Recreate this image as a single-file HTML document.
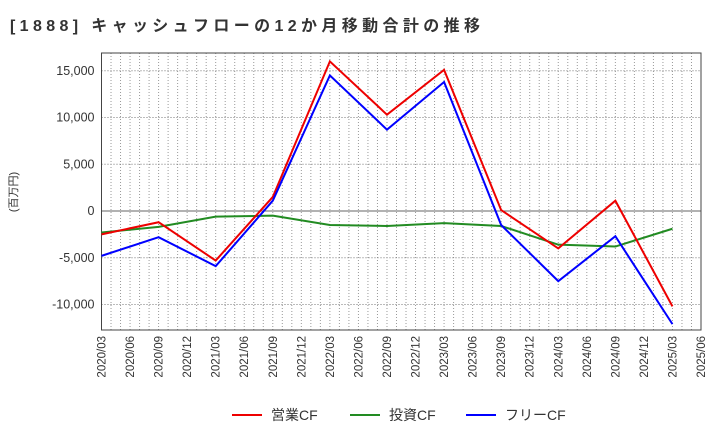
<!DOCTYPE html>
<html><head><meta charset="utf-8"><style>
body{margin:0;background:#fff;width:720px;height:440px;overflow:hidden;font-family:"Liberation Sans","Noto Sans CJK JP",sans-serif}
</style></head><body>
<svg id="c" width="720" height="440" font-family="Liberation Sans, Noto Sans CJK JP, sans-serif">
<text x="10" y="31" font-size="16" font-weight="bold" fill="#333" textLength="470" lengthAdjust="spacing">[1888]  キャッシュフローの12か月移動合計の推移</text>
<text transform="translate(17,192) rotate(-90)" font-size="11" fill="#333" text-anchor="middle">(百万円)</text>
<g id="grid"></g><g id="axes"></g><g id="series"></g>
<g>
<line x1="232" y1="415" x2="262" y2="415" stroke="#e00" stroke-width="2"/>
<text x="271" y="420" font-size="14" fill="#333">営業CF</text>
<line x1="350" y1="415" x2="380" y2="415" stroke="#228b22" stroke-width="2"/>
<text x="389" y="420" font-size="14" fill="#333">投資CF</text>
<line x1="466" y1="415" x2="496" y2="415" stroke="#00f" stroke-width="2"/>
<text x="505" y="420" font-size="14" fill="#333">フリーCF</text>
</g>
</svg>
<script>
const xLabels=["2020/03","2020/06","2020/09","2020/12","2021/03","2021/06","2021/09","2021/12","2022/03","2022/06","2022/09","2022/12","2023/03","2023/06","2023/09","2023/12","2024/03","2024/06","2024/09","2024/12","2025/03","2025/06"];
const yTicks=[15000,10000,5000,0,-5000,-10000];
const pointMonths=[0,6,12,18,24,30,36,42,48,54,60];
const operatingCF=[-2500,-1200,-5300,1500,16000,10300,15100,100,-4000,1100,-10200];
const investingCF=[-2300,-1700,-600,-500,-1500,-1600,-1300,-1600,-3600,-3800,-1900];
const freeCF=[-4800,-2800,-5900,1100,14500,8700,13800,-1500,-7500,-2700,-12100];
const L=101.5,R=701,T=53,B=330;
const x=m=>L+m*(R-L)/63;
const y=v=>211-v*0.00935;
const NS="http://www.w3.org/2000/svg";
function mk(p,t,a){const e=document.createElementNS(NS,t);for(const k in a)e.setAttribute(k,a[k]);p.appendChild(e);return e;}
const grid=document.getElementById('grid'),axes=document.getElementById('axes'),ser=document.getElementById('series');
for(let m=0;m<=63;m+=1){const gl=mk(grid,'line',{x1:x(m),x2:x(m),y1:T,y2:B,stroke:'#999','stroke-dasharray':'1,2','stroke-width':1});

}
yTicks.forEach(v=>{const gl=mk(grid,'line',{x1:L,x2:R,y1:y(v),y2:y(v),stroke:v===0?'#666':'#777','stroke-dasharray':v===0?'':'1,2','stroke-width':1});


const t=mk(axes,'text',{x:L-7,y:y(v)+4,'text-anchor':'end','font-size':12.5,fill:'#333'});t.textContent=v.toLocaleString('en-US');

});
const fr=mk(axes,'rect',{x:L,y:T,width:R-L,height:B-T,fill:'none',stroke:'#444','stroke-width':1});


xLabels.forEach((s,i)=>{const xx=x(i*3);const t=mk(axes,'text',{transform:`translate(${xx+4},${B+6}) rotate(-90)`,'text-anchor':'end','font-size':11.5,fill:'#333'});t.textContent=s;

});
[[investingCF,'#228b22','investing-cf-line'],[operatingCF,'#e00','operating-cf-line'],[freeCF,'#00f','free-cf-line']].forEach(([d,c,n])=>{
const p=mk(ser,'polyline',{points:d.map((v,i)=>x(pointMonths[i])+','+y(v)).join(' '),fill:'none',stroke:c,'stroke-width':2});

});
</script>
</body></html>
